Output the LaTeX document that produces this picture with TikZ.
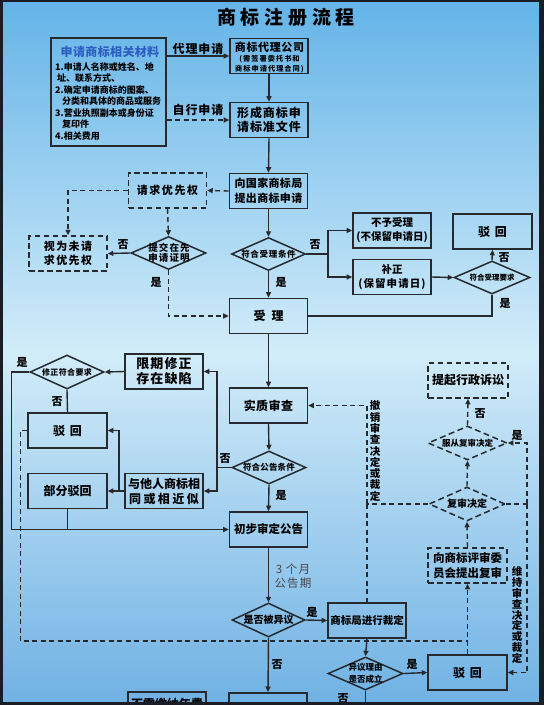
\documentclass[tikz,border=0pt]{standalone}
\usepackage{fontspec}
\setmainfont{Noto Sans CJK SC}
\usetikzlibrary{arrows.meta,shapes.geometric}
\definecolor{framec}{RGB}{26,30,36}
\definecolor{bgtop}{RGB}{100,180,232}
\definecolor{bgmid}{RGB}{210,236,249}
\definecolor{bgbot}{RGB}{112,178,228}
\definecolor{lnc}{RGB}{38,42,46}
\definecolor{mblue}{RGB}{45,95,195}
\definecolor{greytxt}{RGB}{70,72,76}
\newcommand\fsb[2]{\fontsize{#1}{#2}\selectfont}
\newcommand\lsp[1]{\addfontfeature{LetterSpace=#1}}
\tikzset{
  box/.style={draw=lnc, line width=1.6pt, minimum width=78pt, minimum height=35pt, inner sep=1pt, align=center, text=black, font=\bfseries\fsb{12}{15}},
  dbox/.style={box, line width=1.5pt, dash pattern=on 5.5pt off 3.5pt},
  dia/.style={diamond, draw=lnc, line width=1.5pt, inner sep=0pt, minimum width=75pt, minimum height=33pt},
  ddia/.style={dia, dash pattern=on 6pt off 3.5pt},
  dtxt/.style={inner sep=0pt, align=center, text=black, font=\bfseries\fsb{8.5}{10}},
  conn/.style={draw=lnc, line width=1.4pt},
  arr/.style={conn, -{Triangle[length=5.5pt,width=5pt]}},
  dconn/.style={conn, dash pattern=on 5pt off 3.5pt},
  darr/.style={arr, dash pattern=on 5pt off 3.5pt},
  lab/.style={inner sep=0pt, text=black, font=\bfseries\fsb{11}{12}},
}
\begin{document}
\begin{tikzpicture}[x=1pt,y=-1pt]
\useasboundingbox (0,0) rectangle (544,705);
\fill[framec] (0,0) rectangle (544,705);
\shade[top color=bgtop, bottom color=bgbot, middle color=bgmid] (2.5,2) rectangle (539,702);

% title
\node[inner sep=0pt, font=\bfseries\fsb{19}{20}\lsp{25}] (title) at (286,17) {商标注册流程};

% materials
\node[box, minimum width=115pt, minimum height=108pt] (mat) at (108.5,92) {};
\node[inner sep=0pt, text=mblue, font=\bfseries\fsb{12}{14}\lsp{3}] (mattitle) at (110,52) {申请商标相关材料};
\node[anchor=west, align=left, inner sep=0pt, text=black, font=\bfseries\fsb{9}{11.5}] (matlist) at (55,101.5)
 {1.申请人名称或姓名、地\\\hspace*{2pt}址、联系方式、\\2.确定申请商标的图案、\\\hspace*{7pt}分类和具体的商品或服务\\3.营业执照副本或身份证\\\hspace*{7pt}复印件\\4.相关费用};

% main column
\node[box] (agent) at (269,56) {};
\node[inner sep=0pt, font=\bfseries\fsb{11}{13}\lsp{6}] (agentt1) at (269.5,47) {商标代理公司};
\node[inner sep=0pt, align=center, font=\bfseries\fsb{7.2}{10}\lsp{14}] (agentt2) at (269.5,64.5) {(需签署委托书和\\商标申请代理合同)};
\node[box, font=\bfseries\fsb{12}{14}\lsp{8}] (form) at (269,120) {形成商标申\\请标准文件};
\node[box, font=\bfseries\fsb{11}{15}\lsp{3}] (submit) at (268.5,191) {向国家商标局\\提出商标申请};
\node[dbox, font=\bfseries\fsb{11}{14}\lsp{14}] (prio) at (167.5,190.5) {请求优先权};
\node[dbox, font=\bfseries\fsb{11}{14}\lsp{13}] (notprio) at (68,253.5) {视为未请\\求优先权};
\node[dia] (dproof) at (168.5,253) {};
\node[dtxt, font=\bfseries\fsb{9.5}{10}\lsp{12}] (dproott) at (169,253) {提交在先\\申请证明};
\node[dia, minimum width=74pt] (dacc) at (268.5,254) {};
\node[dtxt, font=\bfseries\fsb{8.5}{10}\lsp{8}] (dacct) at (268.5,254) {符合受理条件};
\node[box] (accept) at (268.5,316) {受\hspace{6pt}理};
\node[box, font=\bfseries\fsb{10.5}{14}] (reject1) at (392,230.5) {不予受理\\(不保留申请日)};
\node[box, font=\bfseries\fsb{10.5}{14}] (fix) at (392,277) {补正\\{\lsp{10}(保留申请日)}};
\node[dia, minimum width=76pt] (dreq) at (492,277.5) {};
\node[dtxt, font=\bfseries\fsb{7.5}{9}] (dreqt) at (492,277.5) {符合受理要求};
\node[box, minimum width=79pt] (bh1) at (492.5,231.5) {驳\hspace{5pt}回};
\node[box, font=\bfseries\fsb{12}{14}\lsp{4}] (exam) at (268.5,405.5) {实质审查};
\node[dia, minimum width=74pt] (dpub) at (269,467.5) {};
\node[dtxt, font=\bfseries\fsb{8.5}{10}\lsp{2}] (dpubt) at (269,467.5) {符合公告条件};
\node[box, font=\bfseries\fsb{13}{15}\lsp{8}] (limit) at (164,371.5) {限期修正\\存在缺陷};
\node[box, font=\bfseries\fsb{12}{15}] (similar) at (164,491) {与他人商标相\\{\lsp{20}同或相近似}};
\node[dia, minimum width=74pt, minimum height=34pt] (dfix) at (67,372) {};
\node[dtxt, font=\bfseries\fsb{8}{10}\lsp{5}] (dfixt) at (67,372) {修正符合要求};
\node[box, minimum width=79pt] (bh2) at (67.5,430.5) {驳\hspace{5pt}回};
\node[box, minimum width=79pt] (part) at (67.5,491) {部分驳回};
\node[box, font=\bfseries\fsb{11.5}{14}] (prelim) at (268.5,529.5) {初步审定公告};
\node[dia, minimum width=73pt, minimum height=34pt] (dopp) at (268.5,620) {};
\node[dtxt, font=\bfseries\fsb{10}{12}] (doppt) at (268.5,620) {是否被异议};
\node[box, font=\bfseries\fsb{10.5}{14}] (ruling) at (367,620.5) {商标局进行裁定};
\node[dia, minimum width=75pt] (dreason) at (365.5,673.5) {};
\node[dtxt, font=\bfseries\fsb{8.5}{12.5}] (dreasont) at (365.5,673.5) {异议理由\\是否成立};
\node[box, minimum width=79pt] (bh3) at (467.5,672.5) {驳\hspace{5pt}回};
\node[box, anchor=north] (boxb) at (268,692) {};
\node[box, anchor=north] (feebox) at (167,691) {};
\node[inner sep=0pt, font=\bfseries\fsb{12}{14}] (feet) at (167,703.5) {不需缴纳年费};

% review column
\node[dbox, minimum width=80pt, font=\bfseries\fsb{12}{14}] (suit) at (468,380.5) {提起行政诉讼};
\node[ddia, minimum width=79pt, minimum height=34pt] (dobey) at (467.5,443) {};
\node[dtxt, font=\bfseries\fsb{8.5}{10}] (dobeyt) at (467.5,443) {服从复审决定};
\node[ddia, minimum width=76pt, minimum height=34pt] (drev) at (467,504) {};
\node[dtxt, font=\bfseries\fsb{10}{12}] (drevt) at (467,504) {复审决定};
\node[dbox, minimum width=79pt, font=\bfseries\fsb{11.5}{15}] (review) at (467.5,565.5) {向商标评审委\\员会提出复审};

% coordinates
\coordinate (j1) at (328,254);
\coordinate (j2) at (217,467.5);
\coordinate (j3) at (119,491);
\coordinate (j4) at (467.5,641);
\coordinate (j5) at (367,504);
\coordinate (j6) at (527,504);

% connectors
\draw[arr] (mat.east |- agent.west) -- (agent.west);
\draw[darr] (mat.east |- form.west) -- (form.west);
\draw[arr] (agent.south) -- (form.north);
\draw[arr] (form.south) -- (submit.north);
\draw[darr] (submit.west) -- (prio.east);
\draw[darr] (prio.west) -| (notprio.north);
\draw[darr] (prio.south) -- (dproof.north);
\draw[arr] (dproof.west) -- (notprio.east);
\draw[darr] (dproof.south) |- (accept.west);
\draw[arr] (submit.south) -- (dacc.north);
\draw[arr] (dacc.south) -- (accept.north);
\draw[conn] (dacc.east) -- (j1);
\draw[arr] (j1) |- (reject1.west);
\draw[arr] (j1) |- (fix.west);
\draw[arr] (fix.east) -- (dreq.west);
\draw[arr] (dreq.north) -- (bh1.south);
\draw[conn] (dreq.south) |- (accept.east);
\draw[arr] (accept.south) -- (exam.north);
\draw[arr] (exam.south) -- (dpub.north);
\draw[conn] (dpub.west) -- (j2);
\draw[arr] (j2) |- (limit.east);
\draw[arr] (j2) |- (similar.east);
\draw[arr] (limit.west) -- (dfix.east);
\draw[arr] (dfix.west) -- ++(-18,0) |- (prelim.west);
\draw[conn] (dfix.south) -- (bh2.north);
\draw[arr] (similar.west) -- (part.east);
\draw[arr] (j3) |- (bh2.east);
\draw[conn] (part.south) -- (part.south |- prelim.west);
\draw[arr] (dpub.south) -- (prelim.north);
\draw[arr] (prelim.south) -- (dopp.north);
\draw[arr] (dopp.east) -- (ruling.west);
\draw[arr] (dopp.south) -- (boxb.north);
\draw[arr] (ruling.south) -- (dreason.north);
\draw[arr] (dreason.east) -- (bh3.west);
\draw[conn] (dreason.south) -- ++(0,20);
\draw[dconn] (bh2.west) -- ++(-7,0) |- (j4);
\draw[darr] (bh3.north) -- (review.south);
\draw[darr] (review.north) -- (drev.south);
\draw[darr] (drev.north) -- (dobey.south);
\draw[darr] (dobey.north) -- (suit.south);
\draw[dconn] (drev.west) -- (j5);
\draw[darr] (j5) |- (exam.east);
\draw[dconn] (j5) -- (ruling.north);
\draw[dconn] (drev.east) -- (j6);
\draw[darr] (j6) |- (dobey.east);
\draw[darr] (j6) |- (bh3.east);

% labels
\node[lab, font=\bfseries\fsb{12}{14}\lsp{8}] (l1) at (198,49) {代理申请};
\node[lab, font=\bfseries\fsb{12}{14}\lsp{8}] (l2) at (198,110) {自行申请};
\node[lab] (l3) at (123,245) {否};
\node[lab] (l4) at (156,282) {是};
\node[lab] (l5) at (281,282) {是};
\node[lab] (l6) at (315,245) {否};
\node[lab] (l7) at (504,258) {否};
\node[lab] (l8) at (505,303) {是};
\node[lab] (l9) at (225,459) {否};
\node[lab] (l10) at (281,495) {是};
\node[lab] (l11) at (22,362) {是};
\node[lab] (l12) at (57,402) {否};
\node[inner sep=0pt, align=center, text=greytxt, font=\fsb{11.5}{14}\lsp{10}] (l13) at (293,576) {3 个月\\公告期};
\node[lab] (l14) at (312,612) {是};
\node[lab] (l15) at (277,665) {否};
\node[lab] (l16) at (412,664) {是};
\node[lab] (l17) at (343,699) {否};
\node[lab] (l18) at (480,414) {否};
\node[lab] (l19) at (517,435) {是};
\node[lab, align=center, font=\bfseries\fsb{10.5}{11.3}] (l20) at (375,451) {撤\\销\\审\\查\\决\\定\\或\\裁\\定};
\node[lab, align=center, font=\bfseries\fsb{10.5}{10.8}] (l21) at (517,615) {维\\持\\审\\查\\决\\定\\或\\裁\\定};

% frame overlay
\fill[framec] (0,702) rectangle (544,705);
\fill[framec] (539,0) rectangle (544,705);
\fill[framec] (0,0) rectangle (544,2);
\fill[framec] (0,0) rectangle (2.5,705);
\end{tikzpicture}
\end{document}
